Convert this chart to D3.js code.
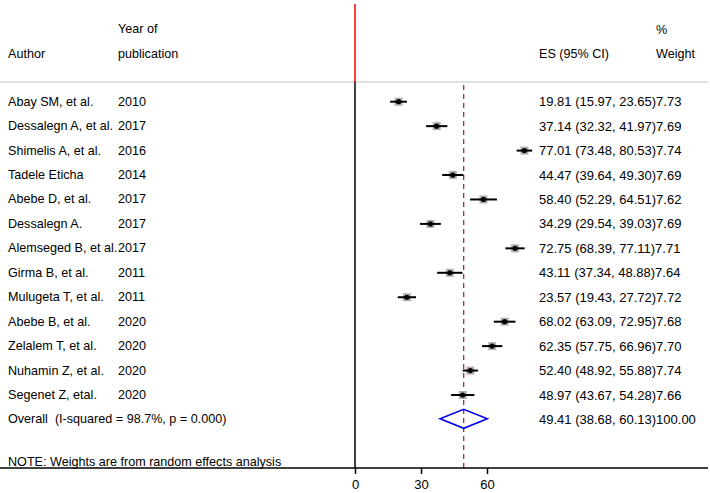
<!DOCTYPE html>
<html>
<head>
  <script src="https://d3js.org/d3.v7.min.js"></script>
  <style>
    body { margin: 0; background: #fff; }
    text { font-family: Arial, "Liberation Sans", sans-serif; font-size: 12.6px; fill: #000; white-space: pre; }
    text.num { font-size: 13px; }
  </style>
</head>
<body>
  <script>
    // study data
    const authors = ["Abay SM, et al.", "Dessalegn A, et al.", "Shimelis A, et al.", "Tadele Eticha",
      "Abebe D, et al.", "Dessalegn A.", "Alemseged B, et al.", "Girma B, et al.", "Mulugeta T, et al.",
      "Abebe B, et al.", "Zelalem T, et al.", "Nuhamin Z, et al.", "Segenet Z, etal."];
    const years = ["2010", "2017", "2016", "2014", "2017", "2017", "2017", "2011", "2011", "2020", "2020", "2020", "2020"];
    const es = [19.81, 37.14, 77.01, 44.47, 58.40, 34.29, 72.75, 43.11, 23.57, 68.02, 62.35, 52.40, 48.97];
    const lo = [15.97, 32.32, 73.48, 39.64, 52.29, 29.54, 68.39, 37.34, 19.43, 63.09, 57.75, 48.92, 43.67];
    const hi = [23.65, 41.97, 80.53, 49.30, 64.51, 39.03, 77.11, 48.88, 27.72, 72.95, 66.96, 55.88, 54.28];
    const weights = ["7.73", "7.69", "7.74", "7.69", "7.62", "7.69", "7.71", "7.64", "7.72", "7.68", "7.70", "7.74", "7.66"];

    const overall = { es: 49.41, lo: 38.68, hi: 60.13, weight: "100.00" };
    const overallLabel = "Overall  (I-squared = 98.7%, p = 0.000)";
    const note = "NOTE: Weights are from random effects analysis";
    const xTicks = [0, 30, 60];

    const w = 710, h = 493;
    const headerY = 82;
    const axisY = 468;

    const x = d3.scaleLinear().domain([0, 30]).range([355, 421]);

    // rows: studies, then overall
    const y = d3.scaleLinear().domain([0, 12]).range([101.7, 395]);

    const svg = d3.select("body").append("svg")
      .attr("width", w)
      .attr("height", h);

    // header
    const hdr = svg.append("g");
    hdr.append("text").attr("x", 8).attr("y", 54).attr("dominant-baseline", "central").text("Author");
    hdr.append("text").attr("x", 118).attr("y", 29).attr("dominant-baseline", "central").text("Year of");
    hdr.append("text").attr("x", 118).attr("y", 54).attr("dominant-baseline", "central").text("publication");
    hdr.append("text").attr("x", 539).attr("y", 54).attr("dominant-baseline", "central").text("ES (95% CI)");
    hdr.append("text").attr("x", 656).attr("y", 30).attr("dominant-baseline", "central").text("%");
    hdr.append("text").attr("x", 656).attr("y", 54).attr("dominant-baseline", "central").text("Weight");

    svg.append("line")
      .attr("x1", 0).attr("x2", 708)
      .attr("y1", headerY).attr("y2", headerY)
      .attr("stroke", "#c4c4c4").attr("stroke-width", 1.2);

    // null line: red above header, black below
    svg.append("line")
      .attr("x1", x(0)).attr("x2", x(0))
      .attr("y1", 4).attr("y2", headerY)
      .attr("stroke", "#ff0000").attr("stroke-width", 1.5);
    svg.append("line")
      .attr("x1", x(0)).attr("x2", x(0))
      .attr("y1", headerY).attr("y2", axisY)
      .attr("stroke", "#000").attr("stroke-width", 1.5);

    // overall effect dashed line
    svg.append("line")
      .attr("x1", x(overall.es)).attr("x2", x(overall.es))
      .attr("y1", headerY + 3).attr("y2", axisY)
      .attr("stroke", "#9b1b30").attr("stroke-width", 1.2)
      .attr("stroke-dasharray", "5,4");

    // study rows
    const rows = svg.selectAll("g.row")
      .data(authors)
      .enter()
      .append("g")
      .attr("class", "row")
      .attr("transform", (d, i) => "translate(0," + y(i) + ")");

    rows.append("text").attr("x", 8).attr("dominant-baseline", "central").text(d => d);
    rows.append("text").attr("x", 118).attr("dominant-baseline", "central").text((d, i) => years[i]);
    rows.append("text").attr("class", "num").attr("x", 539).attr("dominant-baseline", "central")
      .text((d, i) => es[i].toFixed(2) + " (" + lo[i].toFixed(2) + ", " + hi[i].toFixed(2) + ")" + weights[i]);

    rows.append("rect")
      .attr("x", (d, i) => x(es[i]) - 4)
      .attr("y", -4)
      .attr("width", 8).attr("height", 8)
      .attr("fill", "#b0b0b0");
    rows.append("line")
      .attr("x1", (d, i) => x(lo[i]))
      .attr("x2", (d, i) => x(hi[i]))
      .attr("stroke", "#000").attr("stroke-width", 2);
    rows.append("circle")
      .attr("cx", (d, i) => x(es[i]))
      .attr("r", 2.6)
      .attr("fill", "#000");

    // overall row
    const oy = y(authors.length) - 0.6;
    svg.append("text").attr("x", 8).attr("y", y(authors.length)).attr("dominant-baseline", "central").text(overallLabel);
    svg.append("text").attr("class", "num").attr("x", 539).attr("y", y(authors.length)).attr("dominant-baseline", "central")
      .text(overall.es.toFixed(2) + " (" + overall.lo.toFixed(2) + ", " + overall.hi.toFixed(2) + ")" + overall.weight);
    svg.append("polygon")
      .attr("points", [
        [x(overall.lo), oy], [x(overall.es), oy - 9.5],
        [x(overall.hi), oy], [x(overall.es), oy + 9.5]
      ].map(p => p.join(",")).join(" "))
      .attr("fill", "none")
      .attr("stroke", "#0000ee").attr("stroke-width", 1.6);

    svg.append("text").attr("x", 8).attr("y", 461.5).attr("dominant-baseline", "central").text(note);

    // x axis
    svg.append("line")
      .attr("x1", 0).attr("x2", 708)
      .attr("y1", axisY).attr("y2", axisY)
      .attr("stroke", "#000").attr("stroke-width", 1.5);
    const xAxis = d3.axisBottom(x).tickValues(xTicks).tickSize(6).tickPadding(6);
    const ax = svg.append("g")
      .attr("transform", "translate(0," + axisY + ")")
      .call(xAxis);
    ax.select(".domain").remove();
    ax.selectAll(".tick line").attr("stroke-width", 1.5);
    ax.selectAll(".tick text").style("font-size", "13px").attr("font-family", "Arial, 'Liberation Sans', sans-serif");
  </script>
</body>
</html>
